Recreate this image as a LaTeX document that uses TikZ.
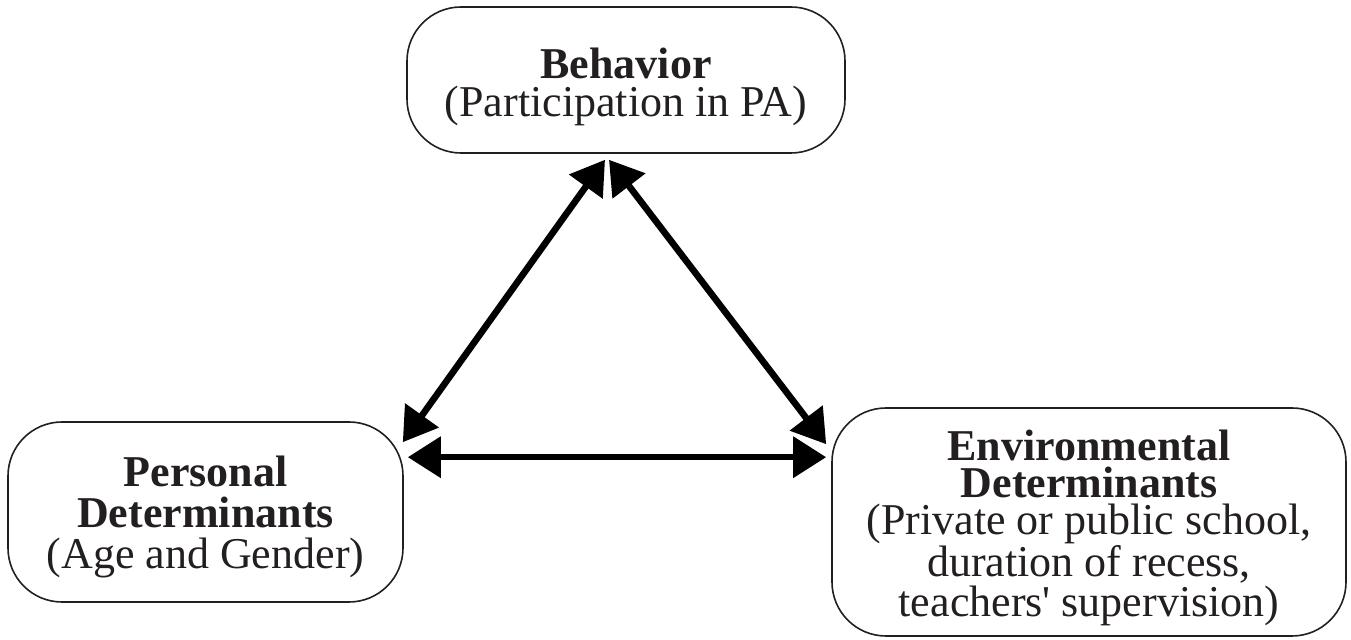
\documentclass[tikz,border=0pt]{standalone}
\usepackage{fontspec}
\setmainfont{Liberation Serif}
\usetikzlibrary{arrows.meta,calc}
\definecolor{ink}{RGB}{35,31,32}
\begin{document}
\begin{tikzpicture}[x=0.5pt,y=-0.5pt,
  box/.style={draw=ink,line width=0.8pt,rounded corners=27pt,inner sep=0pt,align=center,text=ink},
  link/.style={line width=3.3pt,{Triangle[length=16.5pt,width=20pt]}-{Triangle[length=16.5pt,width=20pt]}}]
\useasboundingbox (0,0) rectangle (1351,640);
\node[box,minimum width=219pt,minimum height=73pt,font=\fontsize{22pt}{19pt}\selectfont] (beh) at (626,80)
  {\rule{0pt}{22pt}\textbf{Behavior}\\(Participation in PA)};
\node[box,minimum width=197.5pt,minimum height=90pt,font=\fontsize{22pt}{20.5pt}\selectfont] (per) at (205.5,512)
  {\rule{0pt}{20pt}\textbf{Personal}\\\textbf{Determinants}\\(Age and Gender)};
\node[box,minimum width=257pt,minimum height=114pt,font=\fontsize{22pt}{18.5pt}\selectfont] (env) at (1089,522)
  {\rule{0pt}{21pt}\textbf{Environmental}\\\textbf{Determinants}\\(Private or public school,\\duration of recess,\\teachers\textquotesingle{} supervision)};
\coordinate (bl) at ($(beh.south)+(-21,6)$);
\coordinate (br) at ($(beh.south)+(-17,6)$);
\coordinate (pd) at ($(per.north east)+(-1,21)$);
\coordinate (ph) at ($(per.north east)+(4,36)$);
\coordinate (ed) at ($(env.north west)+(-5,37)$);
\coordinate (eh) at ($(env.north west)+(-5,50)$);
\draw[link] (bl) -- (pd);
\draw[link] (br) -- (ed);
\draw[link] (ph) -- (eh);
\end{tikzpicture}
\end{document}
